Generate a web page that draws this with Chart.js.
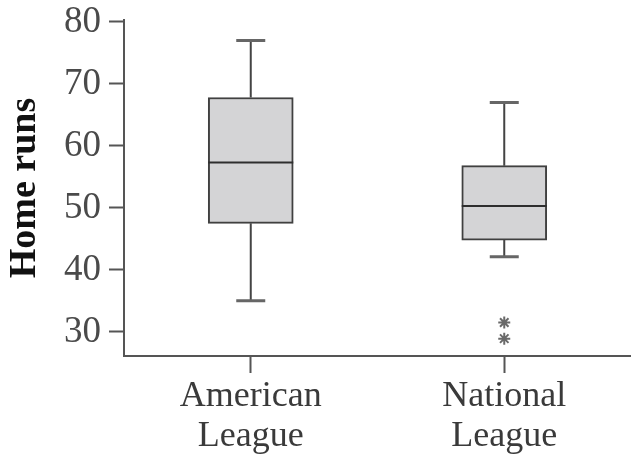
<!DOCTYPE html>
<html lang="en">
<head>
    <meta charset="UTF-8">
    <title>Home runs box plot</title>
    <script src="https://cdn.jsdelivr.net/npm/chart.js"></script>
    <style>
        html, body { margin: 0; padding: 0; background: #fff; }
        #wrap { width: 631px; height: 455px; }
    </style>
</head>
<body>
    <div id="wrap"><canvas id="boxChart"></canvas></div>

    <script>
        // values
        var categories = ["American League", "National League"];
        var lowWhisker = [35, 42.1];
        var q1 = [47.5, 44.8];
        var medians = [57.3, 50.3];
        var q3 = [67.8, 56.8];
        var highWhisker = [77, 67];
        var outliers = [[], [31.5, 28.9]];
        var yTicks = [30, 40, 50, 60, 70, 80];

        var boxes = q1.map(function (v, i) { return [v, q3[i]]; });
        var outlierPoints = [];
        outliers.forEach(function (list, i) {
            list.forEach(function (v) { outlierPoints.push({ x: categories[i], y: v }); });
        });

        var serif = "'Liberation Serif', 'DejaVu Serif', serif";

        // whiskers, caps and median lines drawn through the scales
        var whiskerPlugin = {
            id: "whiskers",
            afterDatasetsDraw: function (chart) {
                var ctx = chart.ctx;
                var xs = chart.scales.x, ys = chart.scales.y;
                var meta = chart.getDatasetMeta(0);
                ctx.save();
                for (var i = 0; i < categories.length; i++) {
                    var x = xs.getPixelForValue(i);
                    var bar = meta.data[i];
                    var half = bar.width / 2;
                    ctx.strokeStyle = "#444";
                    ctx.lineWidth = 2;
                    ctx.beginPath();
                    ctx.moveTo(x, ys.getPixelForValue(q3[i]));
                    ctx.lineTo(x, ys.getPixelForValue(highWhisker[i]));
                    ctx.moveTo(x, ys.getPixelForValue(q1[i]));
                    ctx.lineTo(x, ys.getPixelForValue(lowWhisker[i]));
                    ctx.stroke();

                    ctx.strokeStyle = "#666";
                    ctx.lineWidth = 3;
                    ctx.beginPath();
                    [highWhisker[i], lowWhisker[i]].forEach(function (v) {
                        var y = ys.getPixelForValue(v);
                        ctx.moveTo(x - 14.5, y);
                        ctx.lineTo(x + 14.5, y);
                    });
                    ctx.stroke();

                    ctx.strokeStyle = "#2e2e2e";
                    ctx.lineWidth = 2;
                    ctx.beginPath();
                    var ym = ys.getPixelForValue(medians[i]);
                    ctx.moveTo(bar.x - half, ym);
                    ctx.lineTo(bar.x + half, ym);
                    ctx.stroke();
                }
                ctx.restore();
            }
        };

        var ctx = document.getElementById("boxChart").getContext("2d");
        var chart = new Chart(ctx, {
            type: "bar",
            data: {
                labels: categories,
                datasets: [
                    {
                        label: "box",
                        data: boxes,
                        backgroundColor: "#d4d4d6",
                        borderColor: "#404040",
                        borderWidth: 2,
                        borderSkipped: false,
                        barThickness: 85
                    },
                    {
                        type: "line",
                        label: "outliers",
                        data: outlierPoints,
                        showLine: false,
                        pointStyle: "star",
                        pointRadius: 6,
                        borderColor: "#6a6a6a",
                        borderWidth: 2
                    }
                ]
            },
            options: {
                responsive: true,
                maintainAspectRatio: false,
                animation: false,
                events: [],
                layout: { autoPadding: false, padding: { top: 20, right: -2, left: 0, bottom: 0 } },
                plugins: {
                    legend: { display: false },
                    tooltip: { enabled: false }
                },
                scales: {
                    x: {
                        offset: true,
                        afterFit: function (s) {
                            s.height = 99;
                            s.paddingLeft = 0;
                            s.paddingRight = 0;
                        },
                        grid: {
                            offset: false,
                            drawOnChartArea: false,
                            drawTicks: true,
                            tickLength: 17,
                            tickWidth: 2,
                            tickColor: "#555"
                        },
                        border: { color: "#555", width: 2 },
                        ticks: {
                            color: "#3a3a3a",
                            padding: 4,
                            maxRotation: 0,
                            callback: function (v, i) { return categories[i].split(" "); },
                            font: { family: serif, size: 36, lineHeight: 1.1 }
                        }
                    },
                    y: {
                        min: 26.1,
                        max: 80.3,
                        afterFit: function (s) {
                            s.width = 124;
                            s.paddingTop = 0;
                            s.paddingBottom = 0;
                        },
                        afterBuildTicks: function (s) {
                            s.ticks = yTicks.map(function (v) { return { value: v }; });
                        },
                        grid: {
                            drawOnChartArea: false,
                            drawTicks: true,
                            tickLength: 15,
                            tickWidth: 2,
                            tickColor: "#555"
                        },
                        border: { color: "#555", width: 2 },
                        ticks: {
                            color: "#4a4a4a",
                            padding: 8,
                            font: { family: serif, size: 37, lineHeight: 0.8 }
                        },
                        title: {
                            display: true,
                            text: "Home runs",
                            color: "#111",
                            padding: { top: 2, bottom: 0 },
                            font: { family: serif, size: 38, weight: "bold", lineHeight: 1.2 }
                        }
                    }
                }
            },
            plugins: [whiskerPlugin]
        });
    </script>
</body>
</html>
